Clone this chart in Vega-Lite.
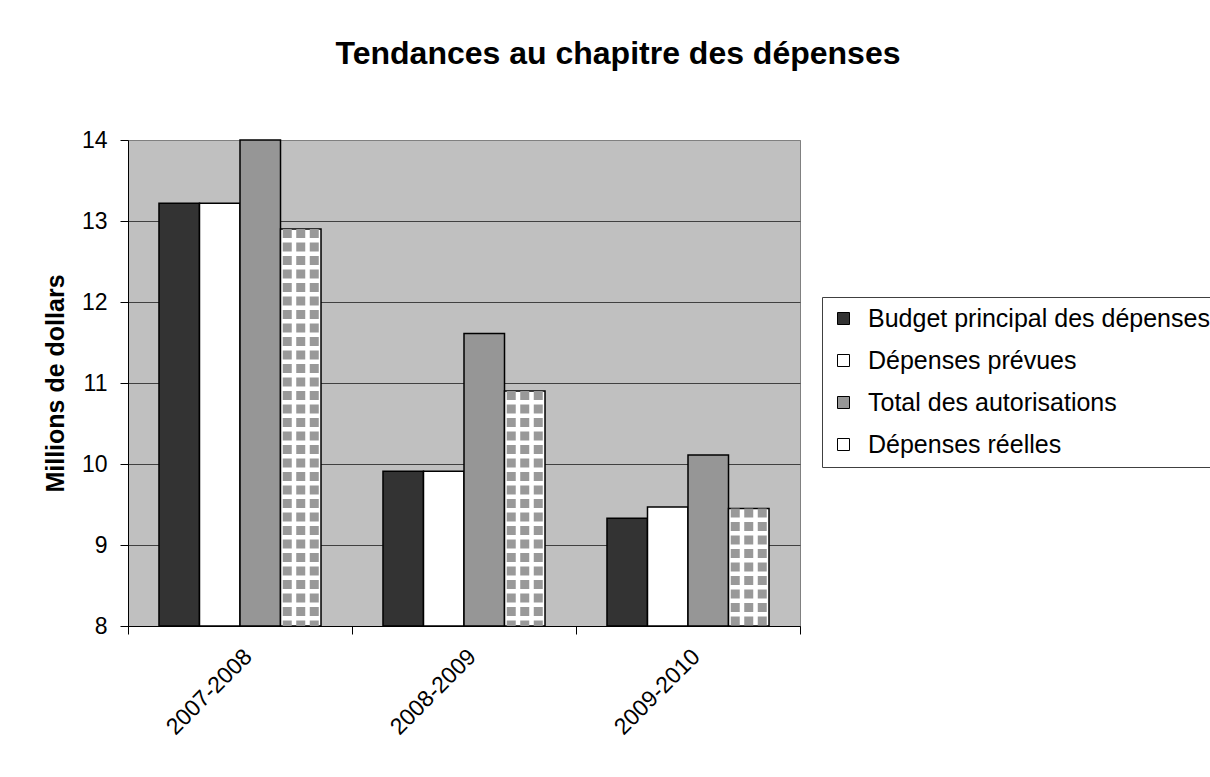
{
  "$schema": "https://vega.github.io/schema/vega-lite/v6.json",
  "width": 672,
  "height": 486,
  "autosize": {"type": "none"},
  "padding": {"left": 128, "top": 140, "right": 410, "bottom": 151},
  "background": "white",
  "title": {
    "text": "Tendances au chapitre des dépenses",
    "font": "Liberation Sans",
    "fontSize": 32,
    "fontWeight": "bold",
    "color": "black",
    "anchor": "middle",
    "frame": "group",
    "dx": 154,
    "baseline": "alphabetic",
    "offset": 33
  },
  "data": {
    "values": [
      {"annee": "2007-2008", "serie": "Budget principal des dépenses", "valeur": 13.22},
      {"annee": "2007-2008", "serie": "Dépenses prévues", "valeur": 13.22},
      {"annee": "2007-2008", "serie": "Total des autorisations", "valeur": 14.0},
      {"annee": "2007-2008", "serie": "Dépenses réelles", "valeur": 12.9},
      {"annee": "2008-2009", "serie": "Budget principal des dépenses", "valeur": 9.91},
      {"annee": "2008-2009", "serie": "Dépenses prévues", "valeur": 9.91},
      {"annee": "2008-2009", "serie": "Total des autorisations", "valeur": 11.61},
      {"annee": "2008-2009", "serie": "Dépenses réelles", "valeur": 10.9},
      {"annee": "2009-2010", "serie": "Budget principal des dépenses", "valeur": 9.33},
      {"annee": "2009-2010", "serie": "Dépenses prévues", "valeur": 9.47},
      {"annee": "2009-2010", "serie": "Total des autorisations", "valeur": 10.11},
      {"annee": "2009-2010", "serie": "Dépenses réelles", "valeur": 9.45}
    ]
  },
  "layer": [
    {
      "mark": {"type": "bar", "stroke": "black", "strokeWidth": 1.5},
      "encoding": {
        "x": {
          "field": "annee",
          "type": "nominal",
          "scale": {"paddingInner": 0, "paddingOuter": 0},
          "axis": {
            "title": null,
            "labelAngle": -45,
            "labelFont": "Liberation Sans",
            "labelFontSize": 23,
            "labelColor": "black",
            "labelPadding": 11,
            "tickBand": "extent",
            "tickSize": 8,
            "tickColor": "black",
            "domainColor": "black",
            "domainWidth": 1,
            "grid": false
          }
        },
        "xOffset": {
          "field": "serie",
          "type": "nominal",
          "sort": ["Budget principal des dépenses", "Dépenses prévues", "Total des autorisations", "Dépenses réelles"],
          "scale": {
            "domain": ["Budget principal des dépenses", "Dépenses prévues", "Total des autorisations", "Dépenses réelles"],
            "paddingInner": 0,
            "paddingOuter": 0.765
          }
        },
        "y": {
          "field": "valeur",
          "type": "quantitative",
          "scale": {"domain": [8, 14], "zero": false, "nice": false},
          "axis": {
            "values": [8, 9, 10, 11, 12, 13, 14],
            "format": "d",
            "grid": true,
            "gridColor": {"condition": {"test": "datum.value === 14", "value": "#808080"}, "value": "#404040"},
            "gridWidth": 1,
            "domainColor": "black",
            "tickColor": "black",
            "tickSize": 8,
            "labelFont": "Liberation Sans",
            "labelFontSize": 23,
            "labelColor": "black",
            "labelPadding": 13,
            "title": "Millions de dollars",
            "titleFont": "Liberation Sans",
            "titleFontSize": 25,
            "titleFontWeight": "bold",
            "titleColor": "black",
            "titleAngle": -90,
            "titleBaseline": "alphabetic",
            "titleAlign": "center",
            "titleX": -65,
            "titleY": 243
          }
        },
        "y2": {"datum": 8},
        "fill": {
          "field": "serie",
          "type": "nominal",
          "sort": ["Budget principal des dépenses", "Dépenses prévues", "Total des autorisations", "Dépenses réelles"],
          "scale": {
            "domain": ["Budget principal des dépenses", "Dépenses prévues", "Total des autorisations", "Dépenses réelles"],
            "range": ["#333333", "#ffffff", "#969696", "#ffffff"]
          },
          "legend": {
            "title": null,
            "orient": "none",
            "legendX": 694,
            "legendY": 157,
            "symbolType": "square",
            "symbolSize": 144,
            "symbolStrokeColor": "black",
            "symbolStrokeWidth": 1,
            "labelFont": "Liberation Sans",
            "labelFontSize": 25,
            "labelColor": "black",
            "labelOffset": 12,
            "labelLimit": 600,
            "rowPadding": 16,
            "padding": 9,
            "strokeColor": "#404040",
            "fillColor": "white"
          }
        }
      }
    },
    {
      "transform": [{"filter": "datum.serie === 'Dépenses réelles'"}],
      "mark": {"type": "rule", "stroke": "#999999", "strokeWidth": 9, "strokeDash": [9, 4.5], "strokeCap": "butt"},
      "encoding": {
        "x": {"field": "annee", "type": "nominal", "bandPosition": 0.7109},
        "y": {"field": "valeur", "type": "quantitative"},
        "y2": {"datum": 8}
      }
    },
    {
      "transform": [{"filter": "datum.serie === 'Dépenses réelles'"}],
      "mark": {"type": "rule", "stroke": "#999999", "strokeWidth": 9, "strokeDash": [9, 4.5], "strokeCap": "butt"},
      "encoding": {
        "x": {"field": "annee", "type": "nominal", "bandPosition": 0.7712},
        "y": {"field": "valeur", "type": "quantitative"},
        "y2": {"datum": 8}
      }
    },
    {
      "transform": [{"filter": "datum.serie === 'Dépenses réelles'"}],
      "mark": {"type": "rule", "stroke": "#999999", "strokeWidth": 9, "strokeDash": [9, 4.5], "strokeCap": "butt"},
      "encoding": {
        "x": {"field": "annee", "type": "nominal", "bandPosition": 0.8315},
        "y": {"field": "valeur", "type": "quantitative"},
        "y2": {"datum": 8}
      }
    }
  ],
  "config": {
    "view": {"fill": "#c0c0c0", "stroke": "#808080", "strokeWidth": 1},
    "font": "Liberation Sans"
  }
}
